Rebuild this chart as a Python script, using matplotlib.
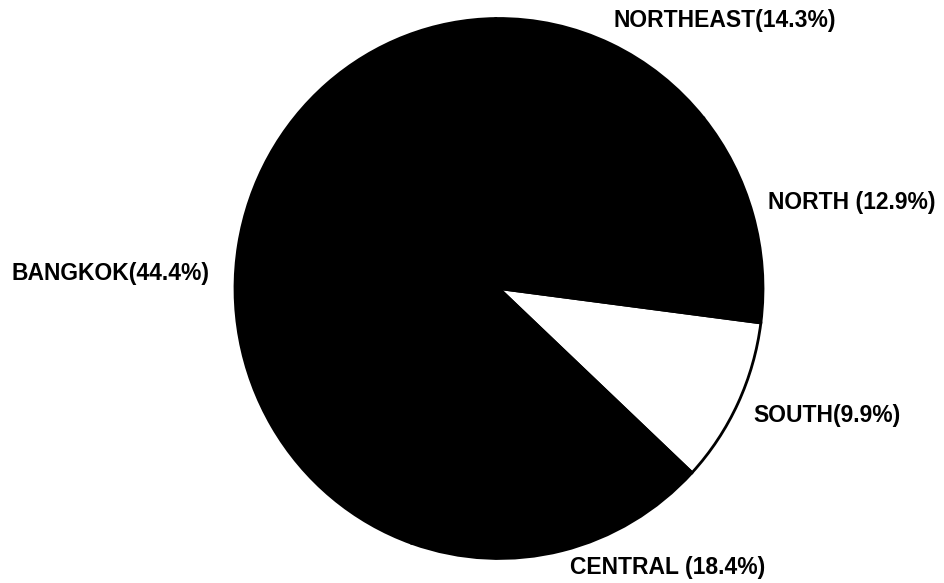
import matplotlib.pyplot as plt

# regional shares (%), in drawing order starting from SOUTH, counter-clockwise
regions = ['SOUTH', 'NORTH', 'NORTHEAST', 'BANGKOK', 'CENTRAL']
shares = [9.9, 12.9, 14.3, 44.4, 18.4]
labels = ['SOUTH(9.9%)', 'NORTH (12.9%)', 'NORTHEAST(14.3%)',
          'BANGKOK(44.4%)', 'CENTRAL (18.4%)']
colors = ['white', 'black', 'black', 'black', 'black']

# label placement (data units, left edge of text)
label_pos = [(0.962, -0.472), (1.019, 0.320), (0.432, 0.991),
             (-1.845, 0.054), (0.269, -1.035)]

fig = plt.figure(figsize=(9.45, 5.83), dpi=100)
ax = fig.add_axes([0, 0, 1, 1])

wedges, texts = ax.pie(shares, labels=labels, colors=colors, startangle=-43,
                       counterclock=True,
                       wedgeprops=dict(edgecolor='black', linewidth=2),
                       textprops=dict(family='Liberation Sans', weight='bold',
                                      fontsize=16.5, color='black'))

for t, (x, y) in zip(texts, label_pos):
    t.set_position((x, y))
    t.set_ha('left')
    t.set_va('center')

# the scanned pie is slightly taller than wide
rx, ry = 264.0, 270.0
ax.set_xlim(-499 / rx, 446 / rx)
ax.set_ylim(-294.5 / ry, 288.5 / ry)
ax.set_aspect('auto')
ax.axis('off')

fig.savefig('out.png', dpi=100)
